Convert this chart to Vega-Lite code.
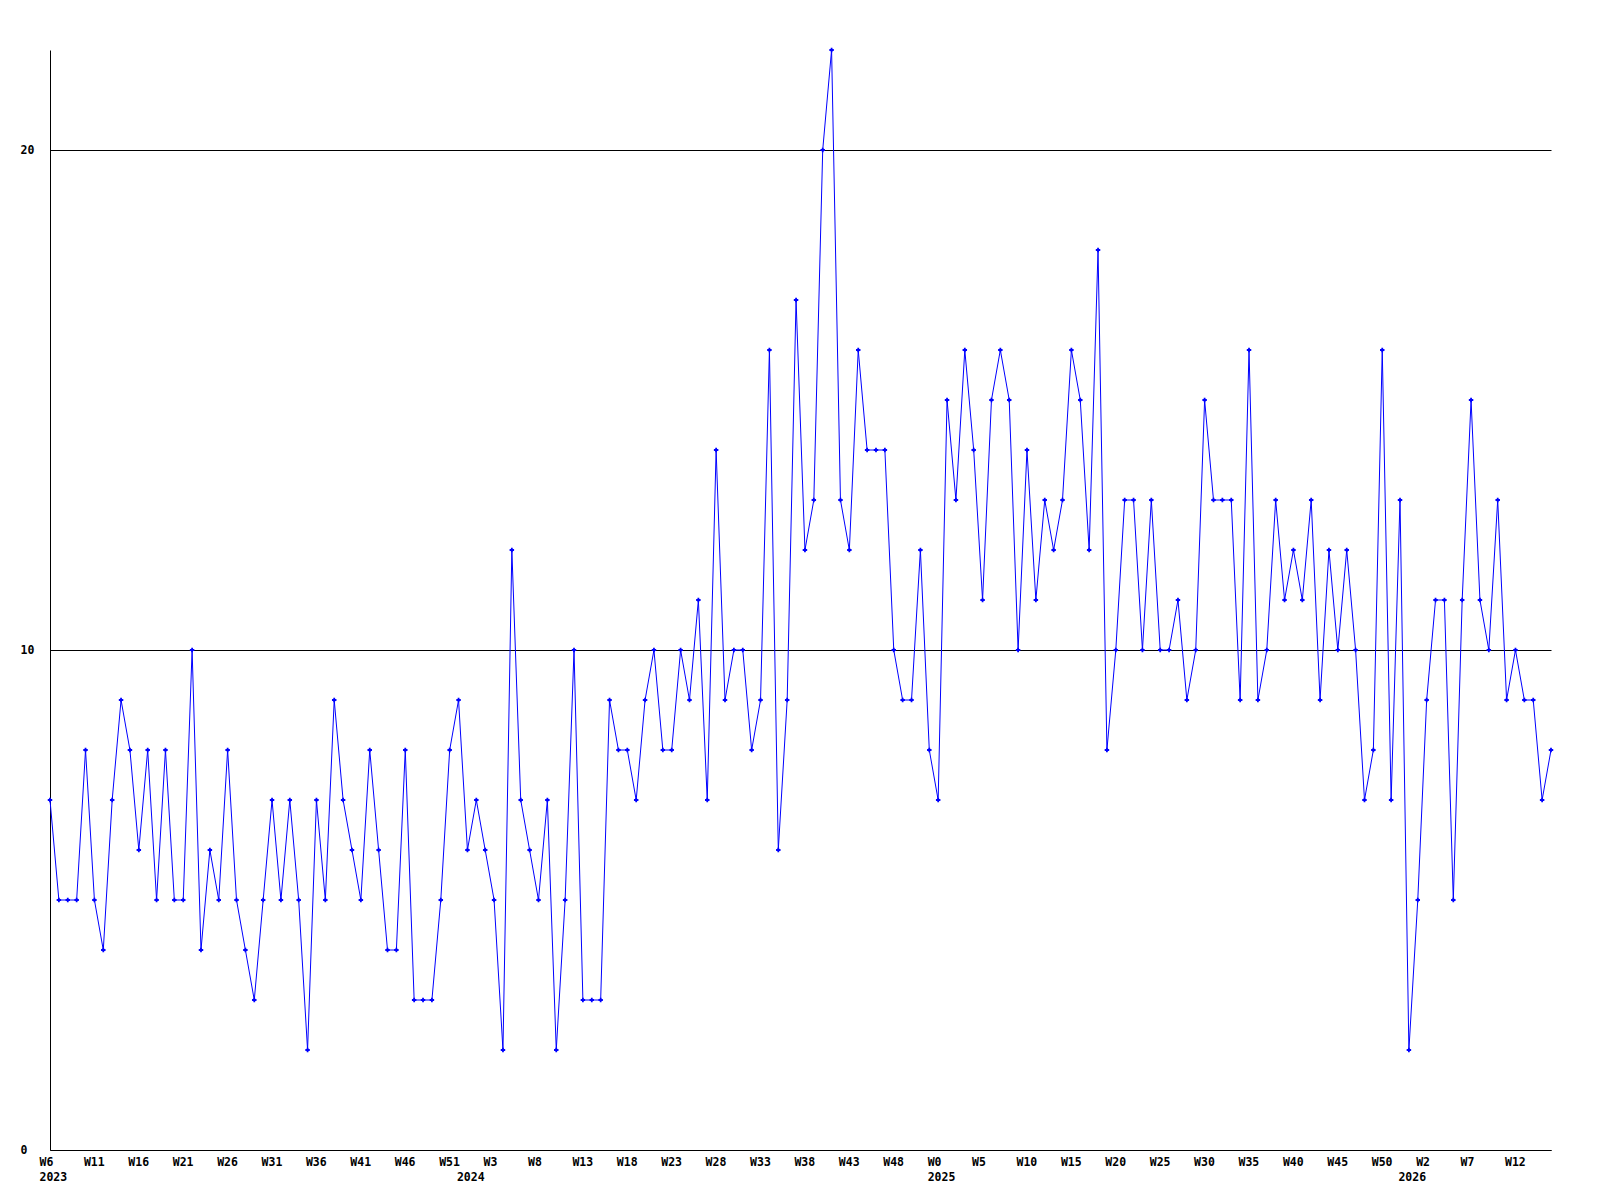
{
  "$schema": "https://vega.github.io/schema/vega-lite/v6.json",
  "width": 1501,
  "height": 1100,
  "autosize": {"type": "none"},
  "padding": {"left": 50, "top": 50, "right": 49, "bottom": 50},
  "background": "white",
  "view": {"stroke": null},
  "data": {"values": [
    {"week": "2023-W6", "value": 7}, {"week": "2023-W7", "value": 5}, {"week": "2023-W8", "value": 5}, {"week": "2023-W9", "value": 5}, {"week": "2023-W10", "value": 8},
    {"week": "2023-W11", "value": 5}, {"week": "2023-W12", "value": 4}, {"week": "2023-W13", "value": 7}, {"week": "2023-W14", "value": 9}, {"week": "2023-W15", "value": 8},
    {"week": "2023-W16", "value": 6}, {"week": "2023-W17", "value": 8}, {"week": "2023-W18", "value": 5}, {"week": "2023-W19", "value": 8}, {"week": "2023-W20", "value": 5},
    {"week": "2023-W21", "value": 5}, {"week": "2023-W22", "value": 10}, {"week": "2023-W23", "value": 4}, {"week": "2023-W24", "value": 6}, {"week": "2023-W25", "value": 5},
    {"week": "2023-W26", "value": 8}, {"week": "2023-W27", "value": 5}, {"week": "2023-W28", "value": 4}, {"week": "2023-W29", "value": 3}, {"week": "2023-W30", "value": 5},
    {"week": "2023-W31", "value": 7}, {"week": "2023-W32", "value": 5}, {"week": "2023-W33", "value": 7}, {"week": "2023-W34", "value": 5}, {"week": "2023-W35", "value": 2},
    {"week": "2023-W36", "value": 7}, {"week": "2023-W37", "value": 5}, {"week": "2023-W38", "value": 9}, {"week": "2023-W39", "value": 7}, {"week": "2023-W40", "value": 6},
    {"week": "2023-W41", "value": 5}, {"week": "2023-W42", "value": 8}, {"week": "2023-W43", "value": 6}, {"week": "2023-W44", "value": 4}, {"week": "2023-W45", "value": 4},
    {"week": "2023-W46", "value": 8}, {"week": "2023-W47", "value": 3}, {"week": "2023-W48", "value": 3}, {"week": "2023-W49", "value": 3}, {"week": "2023-W50", "value": 5},
    {"week": "2023-W51", "value": 8}, {"week": "2023-W52", "value": 9},
    {"week": "2024-W0", "value": 6}, {"week": "2024-W1", "value": 7}, {"week": "2024-W2", "value": 6}, {"week": "2024-W3", "value": 5}, {"week": "2024-W4", "value": 2},
    {"week": "2024-W5", "value": 12}, {"week": "2024-W6", "value": 7}, {"week": "2024-W7", "value": 6}, {"week": "2024-W8", "value": 5}, {"week": "2024-W9", "value": 7},
    {"week": "2024-W10", "value": 2}, {"week": "2024-W11", "value": 5}, {"week": "2024-W12", "value": 10}, {"week": "2024-W13", "value": 3}, {"week": "2024-W14", "value": 3},
    {"week": "2024-W15", "value": 3}, {"week": "2024-W16", "value": 9}, {"week": "2024-W17", "value": 8}, {"week": "2024-W18", "value": 8}, {"week": "2024-W19", "value": 7},
    {"week": "2024-W20", "value": 9}, {"week": "2024-W21", "value": 10}, {"week": "2024-W22", "value": 8}, {"week": "2024-W23", "value": 8}, {"week": "2024-W24", "value": 10},
    {"week": "2024-W25", "value": 9}, {"week": "2024-W26", "value": 11}, {"week": "2024-W27", "value": 7}, {"week": "2024-W28", "value": 14}, {"week": "2024-W29", "value": 9},
    {"week": "2024-W30", "value": 10}, {"week": "2024-W31", "value": 10}, {"week": "2024-W32", "value": 8}, {"week": "2024-W33", "value": 9}, {"week": "2024-W34", "value": 16},
    {"week": "2024-W35", "value": 6}, {"week": "2024-W36", "value": 9}, {"week": "2024-W37", "value": 17}, {"week": "2024-W38", "value": 12}, {"week": "2024-W39", "value": 13},
    {"week": "2024-W40", "value": 20}, {"week": "2024-W41", "value": 22}, {"week": "2024-W42", "value": 13}, {"week": "2024-W43", "value": 12}, {"week": "2024-W44", "value": 16},
    {"week": "2024-W45", "value": 14}, {"week": "2024-W46", "value": 14}, {"week": "2024-W47", "value": 14}, {"week": "2024-W48", "value": 10}, {"week": "2024-W49", "value": 9},
    {"week": "2024-W50", "value": 9}, {"week": "2024-W51", "value": 12}, {"week": "2024-W52", "value": 8},
    {"week": "2025-W0", "value": 7}, {"week": "2025-W1", "value": 15}, {"week": "2025-W2", "value": 13}, {"week": "2025-W3", "value": 16}, {"week": "2025-W4", "value": 14},
    {"week": "2025-W5", "value": 11}, {"week": "2025-W6", "value": 15}, {"week": "2025-W7", "value": 16}, {"week": "2025-W8", "value": 15}, {"week": "2025-W9", "value": 10},
    {"week": "2025-W10", "value": 14}, {"week": "2025-W11", "value": 11}, {"week": "2025-W12", "value": 13}, {"week": "2025-W13", "value": 12}, {"week": "2025-W14", "value": 13},
    {"week": "2025-W15", "value": 16}, {"week": "2025-W16", "value": 15}, {"week": "2025-W17", "value": 12}, {"week": "2025-W18", "value": 18}, {"week": "2025-W19", "value": 8},
    {"week": "2025-W20", "value": 10}, {"week": "2025-W21", "value": 13}, {"week": "2025-W22", "value": 13}, {"week": "2025-W23", "value": 10}, {"week": "2025-W24", "value": 13},
    {"week": "2025-W25", "value": 10}, {"week": "2025-W26", "value": 10}, {"week": "2025-W27", "value": 11}, {"week": "2025-W28", "value": 9}, {"week": "2025-W29", "value": 10},
    {"week": "2025-W30", "value": 15}, {"week": "2025-W31", "value": 13}, {"week": "2025-W32", "value": 13}, {"week": "2025-W33", "value": 13}, {"week": "2025-W34", "value": 9},
    {"week": "2025-W35", "value": 16}, {"week": "2025-W36", "value": 9}, {"week": "2025-W37", "value": 10}, {"week": "2025-W38", "value": 13}, {"week": "2025-W39", "value": 11},
    {"week": "2025-W40", "value": 12}, {"week": "2025-W41", "value": 11}, {"week": "2025-W42", "value": 13}, {"week": "2025-W43", "value": 9}, {"week": "2025-W44", "value": 12},
    {"week": "2025-W45", "value": 10}, {"week": "2025-W46", "value": 12}, {"week": "2025-W47", "value": 10}, {"week": "2025-W48", "value": 7}, {"week": "2025-W49", "value": 8},
    {"week": "2025-W50", "value": 16}, {"week": "2025-W51", "value": 7}, {"week": "2025-W52", "value": 13},
    {"week": "2026-W0", "value": 2}, {"week": "2026-W1", "value": 5}, {"week": "2026-W2", "value": 9}, {"week": "2026-W3", "value": 11}, {"week": "2026-W4", "value": 11},
    {"week": "2026-W5", "value": 5}, {"week": "2026-W6", "value": 11}, {"week": "2026-W7", "value": 15}, {"week": "2026-W8", "value": 11}, {"week": "2026-W9", "value": 10},
    {"week": "2026-W10", "value": 13}, {"week": "2026-W11", "value": 9}, {"week": "2026-W12", "value": 10}, {"week": "2026-W13", "value": 9}, {"week": "2026-W14", "value": 9},
    {"week": "2026-W15", "value": 7}, {"week": "2026-W16", "value": 8}
  ]},
  "mark": {
    "type": "line",
    "color": "#0000ff",
    "strokeWidth": 1,
    "clip": false,
    "point": {"filled": true, "shape": "cross", "size": 20, "color": "#0000ff"}
  },
  "encoding": {
    "x": {
      "field": "week",
      "type": "ordinal",
      "sort": null,
      "scale": {"type": "point", "padding": 0},
      "axis": {
        "title": null,
        "values": ["2023-W6", "2023-W11", "2023-W16", "2023-W21", "2023-W26", "2023-W31", "2023-W36", "2023-W41", "2023-W46", "2023-W51",
                   "2024-W0", "2024-W3", "2024-W8", "2024-W13", "2024-W18", "2024-W23", "2024-W28", "2024-W33", "2024-W38", "2024-W43", "2024-W48",
                   "2025-W0", "2025-W5", "2025-W10", "2025-W15", "2025-W20", "2025-W25", "2025-W30", "2025-W35", "2025-W40", "2025-W45", "2025-W50",
                   "2026-W0", "2026-W2", "2026-W7", "2026-W12"],
        "labelExpr": "datum.value == '2024-W0' || datum.value == '2026-W0' ? [' ', split(datum.value, '-')[0]] : (datum.value == '2023-W6' || datum.value == '2025-W0' ? [split(datum.value, '-')[1], split(datum.value, '-')[0]] : split(datum.value, '-')[1])",
        "labelAngle": 0,
        "labelAlign": "left",
        "labelBaseline": "top",
        "labelOffset": -11,
        "labelPadding": 6,
        "labelLineHeight": 15,
        "labelFont": "DejaVu Sans Mono",
        "labelFontWeight": "bold",
        "labelFontSize": 11.5,
        "labelColor": "black",
        "labelOverlap": false,
        "labelFlush": false,
        "labelBound": false,
        "ticks": false,
        "tickSize": 0,
        "grid": false,
        "domainColor": "black",
        "domainWidth": 1
      }
    },
    "y": {
      "field": "value",
      "type": "quantitative",
      "scale": {"domain": [0, 22], "nice": false, "zero": true},
      "axis": {
        "title": null,
        "values": [0, 10, 20],
        "grid": true,
        "gridColor": "black",
        "gridOpacity": 1,
        "gridWidth": 1,
        "ticks": false,
        "tickSize": 0,
        "labelAlign": "left",
        "labelBaseline": "middle",
        "labelPadding": 30,
        "labelFont": "DejaVu Sans Mono",
        "labelFontWeight": "bold",
        "labelFontSize": 11.5,
        "labelColor": "black",
        "domainColor": "black",
        "domainWidth": 1
      }
    }
  }
}
